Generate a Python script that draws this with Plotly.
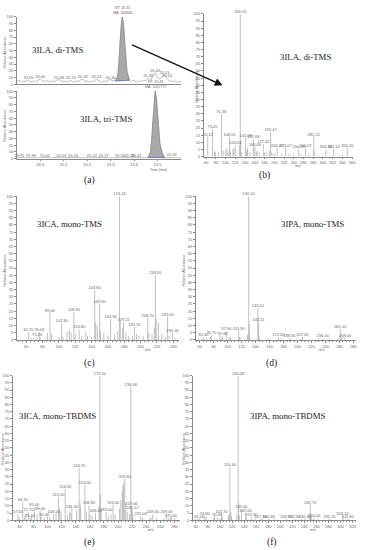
import plotly.graph_objects as go

W, H = 366, 550

# ---------------- DATA ----------------
# (a) chromatograms: retention time (min) vs relative abundance (%)
a1_time = [19.90, 19.91, 19.92, 19.93, 19.94, 19.95, 19.96, 19.97, 19.98, 19.99, 20.00, 20.01, 20.02, 20.03,
           20.04, 20.05, 20.06, 20.07, 20.08, 20.09, 20.10, 20.11, 20.12, 20.13, 20.14, 20.15, 20.16, 20.17,
           20.18, 20.19, 20.20, 20.21, 20.22, 20.23, 20.24, 20.25, 20.26, 20.27, 20.28, 20.29, 20.30, 20.31,
           20.32, 20.39, 20.40, 20.41, 20.42, 20.43, 20.44, 20.45, 20.46, 20.47, 20.48, 20.49, 20.50,
           20.51, 20.52, 20.53, 20.54, 20.55, 20.56, 20.57, 20.58, 20.59, 20.60]
a1_int = [4, 6, 3, 5, 4, 7, 3, 5, 4, 6, 8, 5, 4, 6, 3, 5, 4, 6, 7, 5, 4, 5, 3, 6, 3, 5, 4, 6, 8, 4, 5, 3,
          5, 4, 8, 5, 3, 5, 4, 6, 7, 5, 5, 4, 6, 3, 5, 4, 6, 5, 9, 6, 12, 17, 10, 8, 11, 14, 9, 5, 4, 5, 3, 4, 4]
a1_peak_time = [20.32, 20.33, 20.335, 20.34, 20.345, 20.35, 20.355, 20.36, 20.365, 20.37, 20.38]
a1_peak_int = [5, 12, 30, 62, 90, 100, 88, 60, 35, 18, 6]
a1_lab_time = [19.95, 20.00, 20.08, 20.13, 20.18, 20.24, 20.30, 20.46, 20.49, 20.53, 20.54]
a1_lab_int = [7, 8, 7, 6, 8, 8, 7, 9, 17, 14, 9]

a2_time = [19.90, 19.91, 19.93, 19.96, 19.98, 20.00, 20.02, 20.05, 20.09, 20.12, 20.14, 20.18, 20.22, 20.25,
           20.27, 20.30, 20.34, 20.36, 20.38, 20.41, 20.44, 20.45, 20.46, 20.53, 20.54, 20.56, 20.58, 20.60]
a2_int = [1, 1.5, 1, 1.5, 1, 1, 1.5, 1, 1.5, 1, 1.5, 1, 1.5, 1, 1.5, 1, 1.5, 1, 1.5, 1.5, 1, 1, 1.5,
          1.5, 1, 2, 1, 1]
a2_peak_time = [20.46, 20.47, 20.475, 20.48, 20.485, 20.49, 20.495, 20.50, 20.505, 20.51, 20.52, 20.53]
a2_peak_int = [1.5, 10, 28, 58, 88, 100, 90, 65, 40, 22, 8, 1.5]
a2_lab_time = [19.91, 19.96, 20.02, 20.09, 20.14, 20.22, 20.27, 20.34, 20.38, 20.41, 20.56]
a2_lab_int = [1.5, 1.5, 1.5, 1.5, 1.5, 1.5, 1.5, 1.5, 1.5, 1.5, 2]

# (b) 3ILA di-TMS mass spectrum
b_mz = [63.12, 73.05, 91.36, 108.01, 120.04, 130.05, 141.08, 157.08, 160.06, 177.42, 192.47,
        206.01, 223.07, 250.03, 264.07, 281.12, 306.18, 322.14, 350.20]
b_int = [14, 19, 30, 14, 8, 100, 13, 12, 7, 9, 17, 6, 6, 5, 6, 14, 5, 5, 6]
b_minor_mz = [77, 79, 85, 95, 100, 103, 105, 110, 115, 117, 128, 131, 133, 143, 145, 150, 163, 165,
              170, 180, 185, 190, 195, 200, 215, 230, 240, 255, 270, 282, 290, 333, 340]
b_minor_int = [4, 3, 3, 4, 5, 6, 3, 4, 5, 6, 8, 11, 3, 4, 6, 3, 3, 4, 3, 3, 3, 4, 3, 2, 2, 2, 1.5, 2,
               2, 4, 1.5, 1, 1]

# (c) 3ICA mono-TMS
c_mz = [62.70, 73.14, 76.03, 89.06, 103.30, 118.30, 124.80, 143.80, 149.90, 163.30, 174.14, 179.11,
        192.50, 208.70, 218.05, 233.00, 239.00]
c_int = [5.5, 2, 5.5, 19, 11.5, 19.5, 7.4, 34.5, 25, 14.7, 100, 12.4, 9, 15.4, 45, 16, 5]
c_minor_mz = [66, 70, 77, 86, 91, 100, 105, 110, 113, 115, 120, 128, 133, 135, 140, 145, 147, 151, 155,
              160, 168, 172, 175.1, 178, 182, 185, 190, 195, 198, 203, 210, 214, 217, 219, 221.7, 226,
              230, 235, 242]
c_minor_int = [1.5, 1, 2, 5, 4, 2, 2, 6, 7, 5, 4, 3, 6, 3, 2, 12, 10, 6, 5, 3, 4, 6, 14, 8, 5, 3, 3, 4,
               3, 3, 5, 4, 8, 15, 12, 4, 2, 3, 1.5]

# (d) 3IPA mono-TMS
d_mz = [65.30, 76.70, 92.80, 97.90, 115.90, 130.10, 143.10, 144.11, 172.50, 188.30, 207.00, 236.00,
        261.10, 268.00]
d_int = [2, 3.5, 2.4, 6, 6.5, 100, 22, 12.4, 2, 1, 2, 1, 7.4, 1.5]
d_minor_mz = [58, 63, 70, 75, 89, 91, 102, 104, 117, 118, 128, 129, 131, 132, 145, 157, 160, 175, 190,
              205, 230, 246, 259, 263]
d_minor_int = [1, 1, 1, 2, 3, 1.5, 2, 1.5, 2, 1, 3, 4, 11, 2, 2, 1, 1, 1, 1, 1, 1, 1, 1, 2]

# (e) 3ICA mono-TBDMS
e_mz = [57.60, 64.70, 72.70, 75.00, 81.00, 89.40, 95.30, 108.50, 115.50, 124.90, 134.30, 144.70,
        153.00, 158.80, 168.00, 174.10, 183.00, 193.00, 209.60, 218.08, 219.06, 220.17, 232.00,
        249.40, 269.00, 275.00]
e_int = [4, 12.5, 5.7, 1.6, 9, 6.6, 2, 4.3, 15.8, 21.7, 8, 36.4, 24.5, 10.3, 5, 100, 5.7, 10.8, 28.6,
         92, 9.6, 7.3, 2.7, 4, 4.6, 1.6]
e_minor_mz = [60, 67, 69, 77, 85, 91, 100, 103, 112, 117, 119, 128, 131, 133, 141, 146, 147, 155, 160,
              163, 173, 175, 176, 186, 190, 196, 202, 204, 206, 207, 208, 211, 213, 216, 221, 235, 245,
              247, 255, 265, 272, 276, 280]
e_minor_int = [2, 3, 5, 3, 4, 3, 3, 2, 5, 8, 6, 4, 6, 5, 7, 12, 9, 6, 4, 3, 10, 18, 6, 3, 4, 4, 8, 14,
               20, 24, 26, 12, 6, 4, 4, 2, 1.5, 2, 1.5, 1.5, 2, 3, 1.5]

# (f) 3IPA mono-TBDMS
f_mz = [65.50, 74.80, 95.40, 102.70, 116.40, 130.08, 135.60, 142.60, 151.90, 167.10, 180.80, 209.90,
        222.90, 240.90, 249.70, 256.00, 281.20, 303.10, 311.80]
f_int = [1.1, 3.2, 2, 4.6, 37, 100, 7.8, 5, 2, 1, 1, 1, 1, 1, 10.8, 1.6, 1, 2.7, 1]
f_minor_mz = [58, 63, 77, 89, 91, 100, 104, 114, 115, 118, 119, 128, 131, 132, 144, 158, 170, 190, 235,
              248, 251, 252, 263, 304]
f_minor_int = [1, 1, 2, 2, 3, 1.5, 2, 3, 4, 6, 3, 4, 12, 3, 2, 1, 1, 1, 1, 2, 4, 1.5, 1, 1]

titles = ["3ILA, di-TMS", "3ILA, tri-TMS", "3ILA, di-TMS", "3ICA, mono-TMS", "3IPA, mono-TMS",
          "3ICA, mono-TBDMS", "3IPA, mono-TBDMS"]
panel_letters = ["(a)", "(b)", "(c)", "(d)", "(e)", "(f)"]
rt_labels = ["RT: 20.35<br>MA: 303462", "RT: 20.49<br>MA: 1057717"]

# ---------------- LAYOUT HELPERS ----------------
def px(x):
    return x / W


def py(y):
    return 1 - y / H


fig = go.Figure()

AX = dict(showline=True, linecolor="#8a8a8a", linewidth=0.6, ticks="outside", ticklen=2,
          tickwidth=0.5, tickcolor="#8a8a8a", tickfont=dict(size=4, color="#666", family="Arial"),
          showgrid=False, zeroline=False, fixedrange=True)

# (key, x-domain px, y pixel of 0, y pixel of 100, x-range)
panels = [
    ("", (17, 183), 82, 14, (19.9, 20.6)),
    ("2", (17, 183), 157, 89, (19.9, 20.6)),
    ("3", (206, 356), 155, 11, (55, 360)),
    ("4", (17, 181), 340, 195, (48.5, 247)),
    ("5", (198, 360), 340, 195, (54.4, 283.7)),
    ("6", (13, 182), 522, 376, (50.6, 288)),
    ("7", (195, 360), 522, 376, (55, 325.6)),
]

for i, (k, xd, y0, y100, xr) in enumerate(panels):
    xa = dict(AX, domain=[px(xd[0]), px(xd[1])], range=list(xr), anchor="y" + k)
    ya = dict(AX, domain=[py(y0), py(y100)], range=[0, 100], anchor="x" + k,
              tick0=0, dtick=10 if i < 2 else 5)
    if i == 0:
        xa.update(showticklabels=False, ticks="")
    elif i == 1:
        xa.update(tickvals=[20.0, 20.1, 20.2, 20.3, 20.4, 20.5],
                  ticktext=["20.0", "20.1", "20.2", "20.3", "20.4", "20.5"])
    else:
        xa.update(tick0=0, dtick=20, minor=dict(dtick=5, ticklen=1, tickcolor="#8a8a8a", ticks="outside"))
    fig.layout["xaxis" + k] = xa
    fig.layout["yaxis" + k] = ya


def add_chrom(k, t, it, pt, pi, lt, li, rt):
    xr, yr = "x" + k, "y" + k
    pts = sorted(zip(list(t) + list(pt), list(it) + list(pi)))
    fig.add_trace(go.Scatter(x=[p[0] for p in pts], y=[p[1] for p in pts], mode="lines",
                             line=dict(color="#a0a0a0", width=0.7), xaxis=xr, yaxis=yr,
                             hoverinfo="skip", showlegend=False))
    fig.add_trace(go.Scatter(x=pt, y=pi, mode="lines", fill="toself", fillcolor="#a9a9a9",
                             line=dict(color="#808080", width=0.6), xaxis=xr, yaxis=yr,
                             hoverinfo="skip", showlegend=False))
    fig.add_trace(go.Scatter(x=[pt[0], pt[-1]], y=[pi[0], pi[-1]], mode="lines",
                             line=dict(color="#5060d0", width=0.8), xaxis=xr, yaxis=yr,
                             hoverinfo="skip", showlegend=False))
    fig.add_trace(go.Scatter(x=lt, y=li, mode="text", text=[f"{v:.2f}" for v in lt],
                             textposition="top center", textfont=dict(size=4, color="#666", family="Arial"),
                             xaxis=xr, yaxis=yr, cliponaxis=False, hoverinfo="skip", showlegend=False))
    top = pt[pi.index(max(pi))]
    fig.add_annotation(x=top, y=100, xref=xr, yref=yr, text=rt, showarrow=False, yanchor="bottom",
                       font=dict(size=3.6, color="#666", family="Arial"), align="center")


def add_spec(k, mz, it, mmz, mit):
    xr, yr = "x" + k, "y" + k
    xs, ys = [], []
    for m, h in zip(list(mz) + list(mmz), list(it) + list(mit)):
        xs += [m, m, None]
        ys += [0, h, None]
    fig.add_trace(go.Scatter(x=xs, y=ys, mode="lines", line=dict(color="#b0b0b0", width=0.8),
                             xaxis=xr, yaxis=yr, hoverinfo="skip", showlegend=False))
    fig.add_trace(go.Scatter(x=mz, y=it, mode="text", text=[f"{v:.2f}" for v in mz],
                             textposition="top center", textfont=dict(size=4, color="#666", family="Arial"),
                             xaxis=xr, yaxis=yr, cliponaxis=False, hoverinfo="skip", showlegend=False))


add_chrom("", a1_time, a1_int, a1_peak_time, a1_peak_int, a1_lab_time, a1_lab_int, rt_labels[0])
add_chrom("2", a2_time, a2_int, a2_peak_time, a2_peak_int, a2_lab_time, a2_lab_int, rt_labels[1])
add_spec("3", b_mz, b_int, b_minor_mz, b_minor_int)
add_spec("4", c_mz, c_int, c_minor_mz, c_minor_int)
add_spec("5", d_mz, d_int, d_minor_mz, d_minor_int)
add_spec("6", e_mz, e_int, e_minor_mz, e_minor_int)
add_spec("7", f_mz, f_int, f_minor_mz, f_minor_int)

SERIF = "Liberation Serif, Times New Roman, serif"


def note(x, y, text, size=4, angle=0, family="Arial", color="#666"):
    fig.add_annotation(x=px(x), y=py(y), xref="paper", yref="paper", text=text, showarrow=False,
                       textangle=angle, font=dict(size=size, color=color, family=family),
                       xanchor="center", yanchor="middle")


# panel titles
title_pos = [(58, 47), (107, 117), (309, 55), (70, 223), (316, 223), (58, 417), (291, 417)]
for t, (x, y) in zip(titles, title_pos):
    note(x, y, t, size=8.8, family=SERIF, color="#222")

# panel letters
for t, (x, y) in zip(panel_letters, [(90, 179), (267, 174), (90, 364), (275, 364), (90, 544), (275, 544)]):
    note(x, y, t, size=9.5, family=SERIF, color="#222")

# axis titles
for (x, y) in [(5, 50), (5, 124), (199, 85), (5, 270), (186, 270), (3, 450), (186, 450)]:
    note(x, y, "Relative Abundance", size=3.6, angle=-90)
note(160, 169, "Time (min)", size=3.6)
for (x, y) in [(301, 164), (150, 350), (326, 350), (153, 532), (316, 532)]:
    note(x, y, "m/z", size=3.6)

# arrow from (a) to (b)
fig.add_annotation(x=px(225), y=py(83), xref="paper", yref="paper", ax=133 - 225, ay=42 - 83,
                   axref="pixel", ayref="pixel", showarrow=True, arrowhead=2, arrowsize=1.2,
                   arrowwidth=1.3, arrowcolor="#111", text="")

fig.update_layout(width=W, height=H, margin=dict(l=0, r=0, t=0, b=0), paper_bgcolor="white",
                  plot_bgcolor="white", showlegend=False)

fig.write_html("out.html", config={"displayModeBar": False},
               post_script="document.body.style.margin='0';document.body.style.overflow='hidden';")
